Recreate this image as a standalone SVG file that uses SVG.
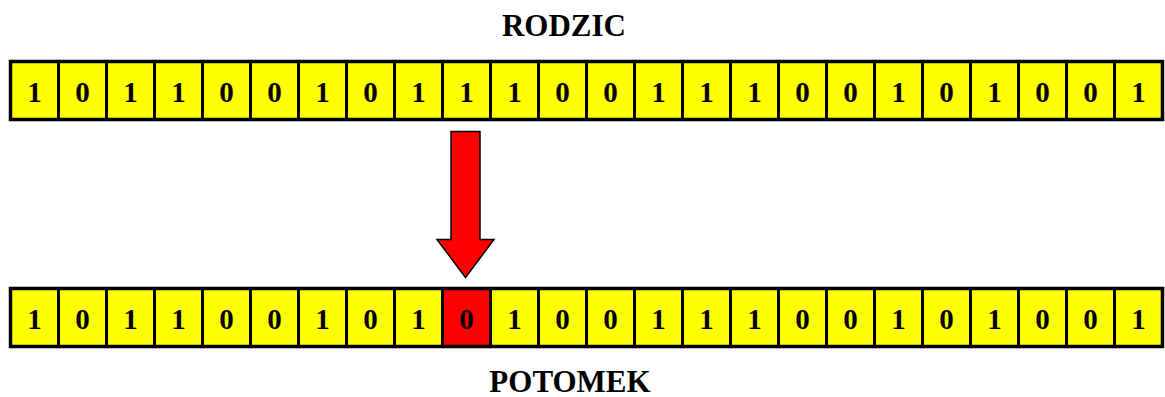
<svg xmlns="http://www.w3.org/2000/svg" width="1165" height="397" viewBox="0 0 1165 397">
  <style>
    .cell { fill: #ffff00; stroke: #000; stroke-width: 3; }
    .hit { fill: #ff0000; }
    .frame { fill: none; stroke: #000; stroke-width: 3.5; }
    .bit { font-family: "Liberation Serif", "Times New Roman", serif; font-weight: bold; font-size: 29px; text-anchor: middle; fill: #000; }
    .title { font-family: "Liberation Serif", "Times New Roman", serif; font-weight: bold; font-size: 31px; text-anchor: middle; fill: #000; }
  </style>
  <defs>
    <rect id="c" class="cell" x="0" y="0" width="48" height="58"/>
  </defs>
  <rect width="1165" height="397" fill="#fff"/>

  <g id="label-parent"><text class="title" x="564" y="35.5">RODZIC</text></g>

  <!-- parent chromosome -->
  <g id="parent">
    <g id="parent-cells" transform="translate(10.5,61.5)">
      <use href="#c" x="0"/><use href="#c" x="48"/><use href="#c" x="96"/><use href="#c" x="144"/>
      <use href="#c" x="192"/><use href="#c" x="240"/><use href="#c" x="288"/><use href="#c" x="336"/>
      <use href="#c" x="384"/><use href="#c" x="432"/><use href="#c" x="480"/><use href="#c" x="528"/>
      <use href="#c" x="576"/><use href="#c" x="624"/><use href="#c" x="672"/><use href="#c" x="720"/>
      <use href="#c" x="768"/><use href="#c" x="816"/><use href="#c" x="864"/><use href="#c" x="912"/>
      <use href="#c" x="960"/><use href="#c" x="1008"/><use href="#c" x="1056"/><use href="#c" x="1104"/>
      <rect class="frame" x="0" y="0" width="1152" height="58"/>
    </g>
    <g id="parent-bits">
      <text class="bit" x="34.5" y="101.5">1</text><text class="bit" x="82.5" y="101.5">0</text>
      <text class="bit" x="130.5" y="101.5">1</text><text class="bit" x="178.5" y="101.5">1</text>
      <text class="bit" x="226.5" y="101.5">0</text><text class="bit" x="274.5" y="101.5">0</text>
      <text class="bit" x="322.5" y="101.5">1</text><text class="bit" x="370.5" y="101.5">0</text>
      <text class="bit" x="418.5" y="101.5">1</text><text class="bit" x="466.5" y="101.5">1</text>
      <text class="bit" x="514.5" y="101.5">1</text><text class="bit" x="562.5" y="101.5">0</text>
      <text class="bit" x="610.5" y="101.5">0</text><text class="bit" x="658.5" y="101.5">1</text>
      <text class="bit" x="706.5" y="101.5">1</text><text class="bit" x="754.5" y="101.5">1</text>
      <text class="bit" x="802.5" y="101.5">0</text><text class="bit" x="850.5" y="101.5">0</text>
      <text class="bit" x="898.5" y="101.5">1</text><text class="bit" x="946.5" y="101.5">0</text>
      <text class="bit" x="994.5" y="101.5">1</text><text class="bit" x="1042.5" y="101.5">0</text>
      <text class="bit" x="1090.5" y="101.5">0</text><text class="bit" x="1138.5" y="101.5">1</text>
    </g>
  </g>

  <!-- mutation arrow -->
  <g id="connectors">
    <polygon points="451,131.5 480,131.5 480,239.5 494,239.5 465.5,277.5 437,239.5 451,239.5" fill="#ff0000" stroke="#000" stroke-width="1.5" stroke-linejoin="miter"/>
  </g>

  <!-- offspring chromosome -->
  <g id="offspring">
    <g id="offspring-cells" transform="translate(10.5,288.5)">
      <use href="#c" x="0"/><use href="#c" x="48"/><use href="#c" x="96"/><use href="#c" x="144"/>
      <use href="#c" x="192"/><use href="#c" x="240"/><use href="#c" x="288"/><use href="#c" x="336"/>
      <use href="#c" x="384"/><rect class="cell hit" x="432" y="0" width="48" height="58"/><use href="#c" x="480"/><use href="#c" x="528"/>
      <use href="#c" x="576"/><use href="#c" x="624"/><use href="#c" x="672"/><use href="#c" x="720"/>
      <use href="#c" x="768"/><use href="#c" x="816"/><use href="#c" x="864"/><use href="#c" x="912"/>
      <use href="#c" x="960"/><use href="#c" x="1008"/><use href="#c" x="1056"/><use href="#c" x="1104"/>
      <rect class="frame" x="0" y="0" width="1152" height="58"/>
    </g>
    <g id="offspring-bits">
      <text class="bit" x="34.5" y="328.5">1</text><text class="bit" x="82.5" y="328.5">0</text>
      <text class="bit" x="130.5" y="328.5">1</text><text class="bit" x="178.5" y="328.5">1</text>
      <text class="bit" x="226.5" y="328.5">0</text><text class="bit" x="274.5" y="328.5">0</text>
      <text class="bit" x="322.5" y="328.5">1</text><text class="bit" x="370.5" y="328.5">0</text>
      <text class="bit" x="418.5" y="328.5">1</text><text class="bit" x="466.5" y="328.5">0</text>
      <text class="bit" x="514.5" y="328.5">1</text><text class="bit" x="562.5" y="328.5">0</text>
      <text class="bit" x="610.5" y="328.5">0</text><text class="bit" x="658.5" y="328.5">1</text>
      <text class="bit" x="706.5" y="328.5">1</text><text class="bit" x="754.5" y="328.5">1</text>
      <text class="bit" x="802.5" y="328.5">0</text><text class="bit" x="850.5" y="328.5">0</text>
      <text class="bit" x="898.5" y="328.5">1</text><text class="bit" x="946.5" y="328.5">0</text>
      <text class="bit" x="994.5" y="328.5">1</text><text class="bit" x="1042.5" y="328.5">0</text>
      <text class="bit" x="1090.5" y="328.5">0</text><text class="bit" x="1138.5" y="328.5">1</text>
    </g>
  </g>

  <g id="label-offspring"><text class="title" x="570" y="392">POTOMEK</text></g>
</svg>
